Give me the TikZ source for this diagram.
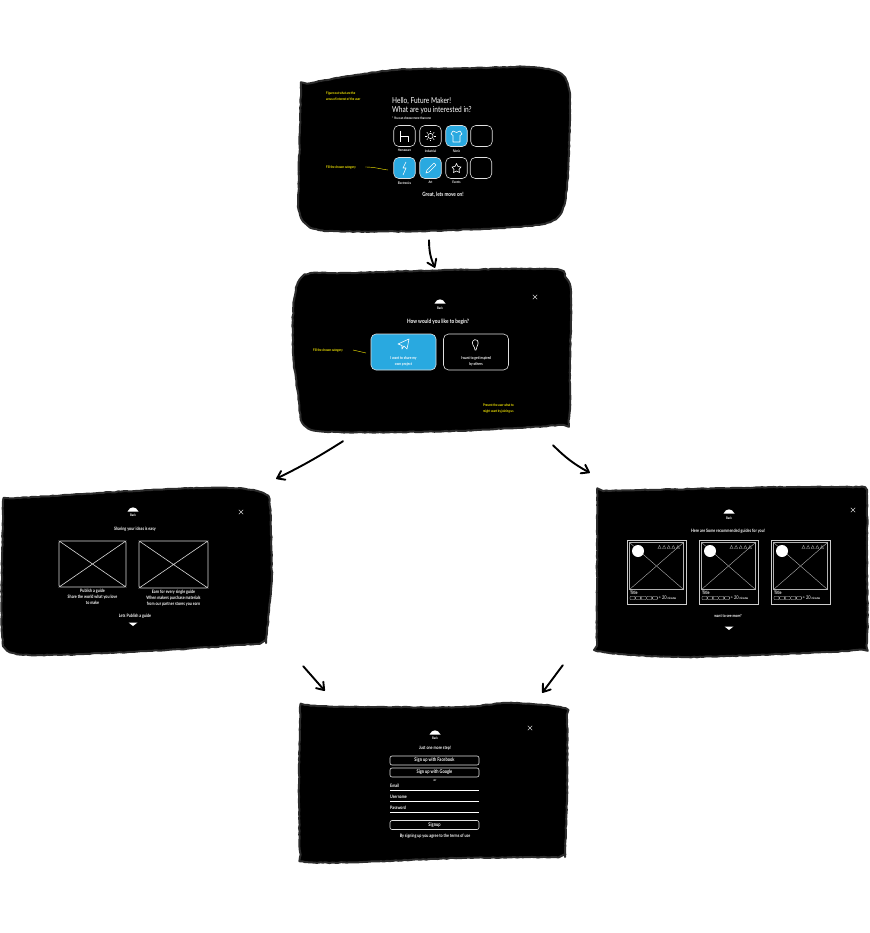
\documentclass[tikz,border=0pt]{standalone}
\usepackage{fontspec}
\setmainfont[FakeStretch=0.8]{Lato}
\usetikzlibrary{positioning,arrows.meta,decorations.pathmorphing}
\definecolor{tileblue}{HTML}{29A9E0}
\definecolor{rimgray}{HTML}{2C2C2C}

\begin{document}
\begin{tikzpicture}[
  x=1pt, y=-1pt,
  frame/.style={rectangle, inner sep=0pt},
  screen/.style={fill=black, draw=rimgray, line width=2pt, line join=round,
                 decorate, decoration={random steps, segment length=3pt, amplitude=0.4pt}},
  sketch/.style={draw=white!88!black, line width=0.6pt, rounded corners=5pt},
  tile/.style={sketch, minimum width=21.5pt, minimum height=21pt, inner sep=0pt},
  chosen/.style={tile, fill=tileblue},
  card/.style={sketch, minimum width=65pt, minimum height=36pt, inner sep=0pt},
  holder/.style={draw=white!85!black, line width=0.6pt, rounded corners=1.5pt, inner sep=0pt},
  field/.style={sketch, rounded corners=2pt, minimum width=89pt, minimum height=9pt, inner sep=0pt,
                text=white, font=\fontsize{5}{6}\bfseries\selectfont},
  txt/.style={text=white, inner sep=0pt, align=center, font=\fontsize{4.6}{6}\bfseries\selectfont},
  tiny/.style={text=white, inner sep=0pt, font=\fontsize{3.4}{4}\bfseries\selectfont},
  note/.style={text=yellow, inner sep=0pt, align=left, font=\fontsize{3.5}{6}\bfseries\selectfont},
  icon/.style={draw=white, line width=0.6pt, line join=round},
  arrow/.style={-{Straight Barb[length=2.4mm,width=3.4mm,round]}, line width=1.9pt, line cap=round},
  lead/.style={draw=yellow, line width=0.4pt},
  dome/.pic={\fill[white] (-5.5,1.5) .. controls (-3,-4) and (3,-4) .. (5.5,1.5) -- cycle;},
  closex/.pic={\draw[white!80!black, line width=0.4pt] (-2.2,-2.2) -- (2.2,2.2) (-2.2,2.2) -- (2.2,-2.2);},
  downtri/.pic={\fill[white] (-4.5,-1.5) -- (4.5,-1.5) -- (0,2) -- cycle;}
]
\useasboundingbox (0,0) rectangle (869,933);

% screens
\node[frame, minimum width=272pt, minimum height=165pt] (hello)  at (434,149.5) {};
\node[frame, minimum width=280pt, minimum height=163pt] (begin)  at (432,350.5) {};
\node[frame, minimum width=270pt, minimum height=167pt] (share)  at (137,571.5) {};
\node[frame, minimum width=273pt, minimum height=170pt] (guides) at (731.5,572) {};
\node[frame, minimum width=269pt, minimum height=161pt] (signup) at (432.5,782.5) {};

\path[screen] plot[smooth, tension=0.5] coordinates {(301,85) (338,78) (395,70) (475,68) (528,67) (558,72) (568,85) (570,110) (567,187) (558,217) (528,226) (428,231) (328,231) (305,223) (298,207)} -- cycle;
\path[screen] plot[smooth cycle, tension=0.5] coordinates {(305,275) (352,273) (452,270) (552,269) (565,276) (571,293) (570,360) (569,418) (558,425) (452,431) (335,432) (304,425) (298,393) (293,353) (294,300)};
\path[screen] plot[smooth, tension=0.5] coordinates {(266,643) (167,650) (50,655) (10,652) (2,633) (2,560) (3,515) (3,502) (5,499) (20,498) (67,495) (167,489) (233,488) (263,493) (270,507) (272,580)} -- cycle;
\path[screen] plot[smooth, tension=0.5] coordinates {(597,491) (690,489) (790,487) (850,487) (865,488) (867,500) (867,567) (867,642) (857,650) (757,655) (673,657) (603,652) (597,643) (597,580)} -- cycle;
\path[screen] plot[smooth, tension=0.5] coordinates {(565,857) (462,858) (362,862) (305,862) (300,852) (299,780) (300,720) (300,708) (302,705) (320,706) (362,707) (462,707) (508,703) (560,707) (567,718) (567,795)} -- cycle;

% hello screen
\node[note, anchor=west] (goal) at (326,96) {Figure out what are the\\areas of interest of the user};
\node[note, anchor=west] (fill) at (326,168) {Fill the chosen category};
\node[txt, anchor=north west, align=left, font=\fontsize{8.2}{9.2}\selectfont] (title) at (392,97) {Hello, Future Maker!\\What are you interested in?};
\node[tiny, anchor=west] (more) at (392,118) {* You can choose more than one};
\node[tile]   (homeware) at (404.5,136) {};
\node[tile]   (industrial) at (430.5,136) {};
\node[chosen] (fabric) at (456.5,136) {};
\node[tile]   (blanka) at (481.5,136) {};
\node[chosen] (electronics) at (404.5,168) {};
\node[chosen] (art) at (430.5,168) {};
\node[tile]   (events) at (456.5,168) {};
\node[tile]   (blankb) at (481,168) {};
\foreach \n/\t in {homeware/Homeware, industrial/Industrial, fabric/Fabric, electronics/Electronics, art/Art, events/Events}
  \node[tiny, below=2.5pt of \n] {\t};
\node[txt, font=\fontsize{5.8}{7}\bfseries\selectfont] (moveon) at (443,195) {Great, lets move on!};
\draw[lead] (365,167) .. controls (375,167) and (380,169) .. (388,170);
% tile icons
\draw[icon] (400,131) -- (400,142) (400,136) -- (408,136) -- (408,142);
\draw[icon] (430.5,136) circle (2.6);
\foreach \a in {0,45,...,315}
  \draw[icon] (430.5,136) ++(\a:3.6) -- ++(\a:1.6);
\draw[icon] (453,131) -- (456.5,132.5) -- (460,131) -- (462,134) -- (460,135.5) -- (460,142) -- (453,142) -- (453,135.5) -- (451,134) -- cycle;
\draw[icon] (406,162) -- (403,168) -- (406,168) -- (403,175);
\draw[icon] (434,163) -- (436,165) -- (429,172) -- (426,173) -- (427,170) -- cycle;
\draw[icon] (456.5,163.5) -- (458,166.5) -- (461,167) -- (459,169.5) -- (459.5,172.5) -- (456.5,171) -- (453.5,172.5) -- (454,169.5) -- (452,167) -- (455,166.5) -- cycle;

% begin screen
\pic at (440,302) {dome};
\node[tiny] (backb) at (440,308) {Back};
\pic at (535,297) {closex};
\node[txt, font=\fontsize{5.9}{7}\bfseries\selectfont] (howq) at (438,322) {How would you like to begin?};
\node[card, fill=tileblue] (own)  at (403.5,352) {};
\node[card] (inspire) at (476,352) {};
\node[tiny, align=center, font=\fontsize{4}{6}\bfseries\selectfont] at (403.5,361) {I want to share my\\own project};
\node[tiny, align=center, font=\fontsize{4}{6}\bfseries\selectfont] at (476,361) {I want to get inspired\\by others};
\draw[icon] (409,339) -- (407,349) -- (404,346) -- (402,349) -- (402,345.5) -- (398,344) -- cycle;
\draw[icon] (473,345) .. controls (470,339) and (479,337) .. (478,344) .. controls (477.5,346) and (476.5,347) .. (476,350) -- (475,350) .. controls (475,348) and (474,347) .. (473,345) -- cycle;
\node[note, anchor=west] (fillb) at (313,351) {Fill the chosen category};
\draw[lead] (353,350) -- (366,353);
\node[note, anchor=west] (present) at (483,409) {Present the user what to\\might want by joining us};

% share screen
\pic at (133,510) {dome};
\node[tiny] (backs) at (133,515) {Back};
\pic at (241,512) {closex};
\node[txt] (sharing) at (135,529) {Sharing your ideas is easy};
\node[holder, minimum width=67pt, minimum height=46pt] (pubimg)  at (92.5,564) {};
\node[holder, minimum width=69pt, minimum height=47pt] (earnimg) at (173.5,564.5) {};
\foreach \n in {pubimg, earnimg}
  \draw[holder] (\n.north west) -- (\n.south east) (\n.north east) -- (\n.south west);
\node[txt, below=1.5pt of pubimg] (pubtxt) {Publish a guide\\Share the world what you love\\to make};
\node[txt, below=1.5pt of earnimg] (earntxt) {Earn for every single guide\\When makers purchase materials\\from our partner stores you earn};
\node[txt] (letspub) at (135,616) {Lets Publish a guide};
\pic at (133,624) {downtri};

% guides screen
\pic at (729,512) {dome};
\node[tiny] (backg) at (729,518) {Back};
\pic at (853,510) {closex};
\node[txt] (recom) at (728,531) {Here are Some recommended guides for you!};
\foreach \i/\cx in {a/656.5, b/728.5, c/800.5} {
  \node[draw=white!80!black, line width=0.6pt, minimum width=59pt, minimum height=64pt, inner sep=0pt] (guide\i) at (\cx,572) {};
  \node[draw=white!70!black, line width=0.4pt, minimum width=54pt, minimum height=47pt, inner sep=0pt] (photo\i) at (\cx,566) {};
  \draw[white!70!black, line width=0.4pt] (photo\i.north west) -- (photo\i.south east) (photo\i.north east) -- (photo\i.south west);
  \fill[white] (\cx-18.5,551) circle (6);
  \foreach \k in {0,...,4}
    \draw[white!70!black, line width=0.3pt] (\cx+3+\k*4.6,545.5) -- (\cx+4.6+\k*4.6,548.5) -- (\cx+1.4+\k*4.6,548.5) -- cycle;
  \node[tiny, anchor=west, font=\fontsize{4.6}{5}\bfseries\selectfont] at (\cx-26.5,593) {Title};
  \foreach \k in {0,...,4}
    \draw[white!85!black, line width=0.35pt, rounded corners=0.6pt] (\cx-26.5+\k*5.6,596.5) rectangle ++(5,3);
  \node[tiny, anchor=west, font=\fontsize{5}{6}\selectfont] at (\cx+2,598) {≈ 20 {\fontsize{3}{4}\bfseries\selectfont minutes}};
}
\node[txt, font=\fontsize{4.2}{6}\bfseries\selectfont] (wantmore) at (728,616) {want to see more?};
\pic at (729,628) {downtri};

% signup screen
\pic at (435,733) {dome};
\node[tiny] (backu) at (435,738) {Back};
\pic at (530,728) {closex};
\node[txt] (onemore) at (435,748) {Just one more step!};
\node[field] (facebook) at (434.5,760.5) {Sign up with Facebook};
\node[field] (google) at (434.5,772.5) {Sign up with Google};
\node[tiny] (ortxt) at (435,781) {or};
\foreach \n/\t/\yy in {email/Email/786, username/Username/797, password/Password/808} {
  \node[txt, anchor=west] (\n) at (390,\yy) {\t};
  \draw[white, line width=0.6pt] (390,\yy+4) -- (479,\yy+4);
}
\node[field] (signupbtn) at (434.5,825) {Signup};
\node[txt] (terms) at (435,836) {By signing up you agree to the terms of use};

% flow
\draw[arrow] ([shift={(-5,8)}]hello.south) to[bend right=12] ([shift={(3,-1)}]begin.north);
\draw[arrow] ([shift={(-89,9)}]begin.south) to[bend left=3] ([shift={(4,-9)}]share.north east);
\draw[arrow] ([shift={(121,13)}]begin.south) to[bend right=8] ([shift={(-5,-14)}]guides.north west);
\draw[arrow] ([shift={(31,11)}]share.south east) -- ([shift={(27,-11)}]signup.north west);
\draw[arrow] ([shift={(-32,8)}]guides.south west) -- ([shift={(-25,-9)}]signup.north east);
\end{tikzpicture}
\end{document}
